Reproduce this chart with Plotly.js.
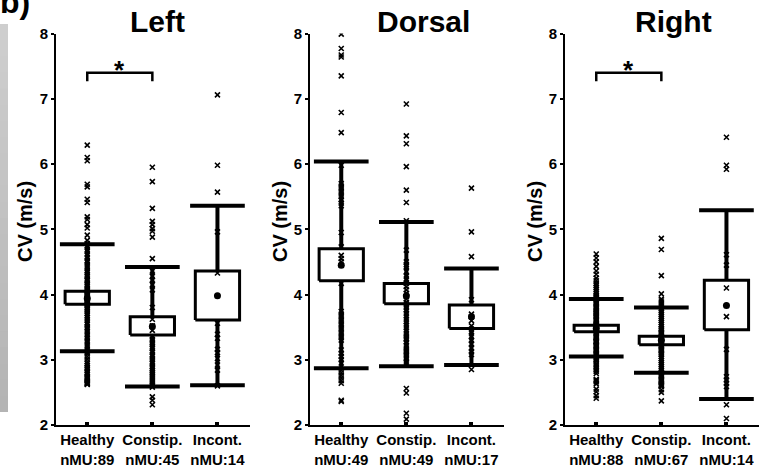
<!DOCTYPE html>
<html>
<head>
<meta charset="utf-8">
<script src="https://cdn.plot.ly/plotly-3.0.1.min.js"></script>
<style>html,body{margin:0;padding:0;background:#fff;}#chart{width:760px;height:466px;}</style>
</head>
<body>
<div id="chart"></div>
<script>
// ---------- data ----------
const categories = ['Healthy', 'Constip.', 'Incont.'];
const panelNames = ['Left', 'Dorsal', 'Right'];
const yTickVals = [2, 3, 4, 5, 6, 7, 8];

const nMULeft = [89, 45, 14];
const nMUDorsal = [49, 49, 17];
const nMURight = [88, 67, 14];

// box statistics (Q1, Q3, mean, whisker ends)
const q1Left = [3.85, 3.38, 3.61];
const q3Left = [4.05, 3.66, 4.36];
const meanLeft = [3.94, 3.51, 3.98];
const whiskLoLeft = [3.13, 2.59, 2.61];
const whiskHiLeft = [4.77, 4.42, 5.36];

const q1Dorsal = [4.21, 3.86, 3.48];
const q3Dorsal = [4.70, 4.17, 3.84];
const meanDorsal = [4.45, 3.98, 3.66];
const whiskLoDorsal = [2.87, 2.90, 2.92];
const whiskHiDorsal = [6.04, 5.11, 4.40];

const q1Right = [3.43, 3.23, 3.46];
const q3Right = [3.53, 3.36, 4.22];
const meanRight = [3.48, 3.30, 3.83];
const whiskLoRight = [3.05, 2.80, 2.40];
const whiskHiRight = [3.93, 3.80, 5.29];

// individual motor-unit CVs (m/s)
const ptsLeftHealthy = [6.29, 6.10, 6.05, 5.69, 5.65, 5.46, 5.41, 5.19, 5.15, 5.07, 5.02, 4.91, 4.83,
  4.78, 4.74, 4.69, 4.66, 4.61, 4.57, 4.52, 4.49, 4.45, 4.41, 4.37, 4.34, 4.30, 4.27, 4.23, 4.21, 4.18,
  4.15, 4.13, 4.10, 4.08, 4.06, 4.04, 4.02, 4.00, 3.99, 3.97, 3.96, 3.94, 3.92, 3.91, 3.89, 3.87, 3.85,
  3.83, 3.80, 3.78, 3.75, 3.71, 3.68, 3.65, 3.61, 3.57, 3.54, 3.50, 3.47, 3.43, 3.39, 3.35, 3.32, 3.28,
  3.24, 3.20, 3.16, 3.12, 3.09, 3.05, 3.01, 2.97, 2.94, 2.91, 2.88, 2.86, 2.83, 2.80, 2.78, 2.75, 2.73,
  2.71, 2.69, 2.67, 2.65, 2.64, 2.63, 2.62];
const ptsLeftConstip = [5.95, 5.73, 5.32, 5.12, 5.07, 5.01, 4.97, 4.88, 4.55, 4.36, 4.28, 4.22, 4.15,
  4.07, 3.80, 3.62, 3.52, 3.45, 3.35, 3.31, 3.27, 3.24, 3.20, 3.17, 3.12, 3.08, 3.05, 3.01, 2.97, 2.94,
  2.90, 2.87, 2.84, 2.81, 2.78, 2.75, 2.72, 2.69, 2.66, 2.63, 2.60, 2.58, 2.43, 2.38, 2.31];
const ptsLeftIncont = [7.06, 5.98, 5.57, 4.96, 4.33, 3.56, 3.39, 3.33, 3.16, 3.11, 3.02, 2.92, 2.84, 2.60];

const ptsDorsalHealthy = [7.99, 7.77, 7.67, 7.64, 7.35, 6.79, 6.48, 5.98, 5.70, 5.66, 5.62, 5.58, 5.54,
  5.50, 5.45, 5.40, 5.36, 4.95, 4.73, 4.60, 4.55, 4.50, 4.45, 4.17, 3.74, 3.70, 3.66, 3.62, 3.58, 3.54,
  3.50, 3.46, 3.42, 3.38, 3.34, 3.30, 3.15, 3.10, 3.05, 3.00, 2.95, 2.84, 2.80, 2.76, 2.72, 2.68, 2.64,
  2.38, 2.36];
const ptsDorsalConstip = [6.92, 6.43, 6.31, 5.96, 5.60, 5.41, 5.13, 4.68, 4.50, 4.46, 4.43, 4.35, 4.28,
  4.24, 4.17, 4.12, 4.07, 4.02, 3.97, 3.93, 3.88, 3.84, 3.80, 3.76, 3.71, 3.67, 3.62, 3.58, 3.53, 3.49,
  3.44, 3.40, 3.36, 3.33, 3.31, 3.27, 3.22, 3.18, 3.14, 3.12, 3.10, 3.06, 3.02, 2.98, 2.95, 2.56, 2.49,
  2.18, 2.09];
const ptsDorsalIncont = [5.63, 4.96, 4.58, 3.92, 3.70, 3.66, 3.60, 3.52, 3.47, 3.43, 3.35, 3.30, 3.24,
  3.18, 3.12, 3.08, 2.85];

const ptsRightHealthy = [4.62, 4.56, 4.50, 4.43, 4.36, 4.31, 4.25, 4.21, 4.17, 4.14, 4.11, 4.08, 4.05,
  4.02, 3.99, 3.97, 3.96, 3.94, 3.92, 3.90, 3.88, 3.86, 3.84, 3.82, 3.80, 3.78, 3.76, 3.74, 3.72, 3.71,
  3.70, 3.68, 3.66, 3.64, 3.62, 3.60, 3.58, 3.56, 3.54, 3.53, 3.52, 3.51, 3.50, 3.49, 3.48, 3.47, 3.46,
  3.45, 3.44, 3.42, 3.40, 3.38, 3.36, 3.34, 3.32, 3.30, 3.28, 3.28, 3.26, 3.24, 3.22, 3.20, 3.18, 3.16,
  3.14, 3.12, 3.10, 3.08, 3.06, 3.04, 3.02, 3.00, 2.98, 2.94, 2.92, 2.90, 2.87, 2.84, 2.82, 2.79, 2.70,
  2.68, 2.66, 2.63, 2.55, 2.51, 2.45, 2.41];
const ptsRightConstip = [4.86, 4.69, 4.29, 4.01, 3.93, 3.90, 3.87, 3.84, 3.81, 3.78, 3.75, 3.72, 3.69,
  3.66, 3.63, 3.60, 3.57, 3.54, 3.51, 3.48, 3.46, 3.44, 3.42, 3.40, 3.38, 3.36, 3.34, 3.32, 3.30, 3.29,
  3.28, 3.27, 3.26, 3.25, 3.24, 3.22, 3.20, 3.18, 3.16, 3.14, 3.12, 3.10, 3.08, 3.05, 3.02, 2.99, 2.96,
  2.93, 2.90, 2.87, 2.84, 2.81, 2.78, 2.76, 2.74, 2.72, 2.70, 2.68, 2.66, 2.64, 2.62, 2.61, 2.60, 2.59,
  2.54, 2.50, 2.37];
const ptsRightIncont = [6.41, 5.98, 5.92, 4.61, 4.45, 4.10, 3.66, 3.16, 2.74, 2.69, 2.64, 2.59, 2.31, 2.10];

// significant pairs (category numbers) per panel
const sigLeft = [[1, 2]];
const sigDorsal = [];
const sigRight = [[1, 2]];

// ---------- assembly ----------
const panels = [
  {name: panelNames[0], n: nMULeft, q1: q1Left, q3: q3Left, mean: meanLeft, lo: whiskLoLeft, hi: whiskHiLeft,
   pts: [ptsLeftHealthy, ptsLeftConstip, ptsLeftIncont], sig: sigLeft},
  {name: panelNames[1], n: nMUDorsal, q1: q1Dorsal, q3: q3Dorsal, mean: meanDorsal, lo: whiskLoDorsal, hi: whiskHiDorsal,
   pts: [ptsDorsalHealthy, ptsDorsalConstip, ptsDorsalIncont], sig: sigDorsal},
  {name: panelNames[2], n: nMURight, q1: q1Right, q3: q3Right, mean: meanRight, lo: whiskLoRight, hi: whiskHiRight,
   pts: [ptsRightHealthy, ptsRightConstip, ptsRightIncont], sig: sigRight}
];

const W = 760, H = 466;
const FONT = 'Liberation Sans, Arial, Helvetica, sans-serif';
const xDomPx = [[56, 250], [310, 504], [565, 759]];
const yDomPx = [33.5, 425];
const titleCx = [157, 423.5, 673.5];
const yTitleCx = [25, 280, 535];
const BOX_HW = 0.34, CAP_HW = 0.42;

const traces = [];
const shapes = [];
const annotations = [];
const layout = {
  width: W, height: H,
  margin: {l: 0, r: 0, t: 0, b: 0},
  paper_bgcolor: '#ffffff', plot_bgcolor: '#ffffff',
  showlegend: false,
  font: {family: FONT, color: '#000'}
};

panels.forEach((p, k) => {
  const sfx = k === 0 ? '' : String(k + 1);
  const xa = 'x' + sfx, ya = 'y' + sfx;
  const xpos = categories.map((c, i) => i + 1);

  // whiskers (vertical stem + caps)
  const wx = [], wy = [];
  xpos.forEach((c, i) => {
    wx.push(c, c, null, c - CAP_HW, c + CAP_HW, null, c - CAP_HW, c + CAP_HW, null);
    wy.push(p.lo[i], p.hi[i], null, p.hi[i], p.hi[i], null, p.lo[i], p.lo[i], null);
  });
  traces.push({type: 'scatter', mode: 'lines', x: wx, y: wy, xaxis: xa, yaxis: ya,
    line: {color: '#000', width: 4}, hoverinfo: 'skip'});

  // boxes
  xpos.forEach((c, i) => {
    traces.push({type: 'scatter', mode: 'lines', xaxis: xa, yaxis: ya,
      x: [c - BOX_HW, c + BOX_HW, c + BOX_HW, c - BOX_HW, c - BOX_HW],
      y: [p.q1[i], p.q1[i], p.q3[i], p.q3[i], p.q1[i]],
      fill: 'toself', fillcolor: '#ffffff', line: {color: '#000', width: 3}, hoverinfo: 'skip'});
  });

  // individual points
  xpos.forEach((c, i) => {
    traces.push({type: 'scatter', mode: 'markers', xaxis: xa, yaxis: ya,
      x: p.pts[i].map(() => c), y: p.pts[i],
      marker: {symbol: 'x-thin', size: 5, color: '#000', line: {color: '#000', width: 1.6}}});
  });

  // means
  traces.push({type: 'scatter', mode: 'markers', xaxis: xa, yaxis: ya, x: xpos, y: p.mean,
    marker: {symbol: 'circle', size: 7, color: '#000'}});

  // axes
  layout['xaxis' + sfx] = {
    domain: [xDomPx[k][0] / W, xDomPx[k][1] / W], anchor: ya, range: [0.52, 3.5],
    tickvals: xpos, ticktext: categories.map((c, i) => '<b>' + c + '</b><br><b>nMU:' + p.n[i] + '</b>'),
    showgrid: false, zeroline: false, showline: true, linecolor: '#000', linewidth: 2,
    ticks: 'inside', ticklen: 3, tickwidth: 4, tickcolor: '#000',
    tickfont: {family: FONT, size: 15, color: '#000'}, fixedrange: true
  };
  layout['yaxis' + sfx] = {
    domain: [1 - yDomPx[1] / H, 1 - yDomPx[0] / H], anchor: xa, range: [2, 8],
    tickvals: yTickVals, ticktext: yTickVals.map(v => '<b>' + v + '</b>'),
    showgrid: false, zeroline: false, showline: true, linecolor: '#000', linewidth: 2,
    ticks: 'outside', ticklen: 3, tickwidth: 2, tickcolor: '#000',
    tickfont: {family: FONT, size: 15, color: '#000'}, fixedrange: true
  };

  // panel title
  annotations.push({text: '<b>' + p.name + '</b>', xref: 'paper', yref: 'paper', x: titleCx[k] / W, y: 1 - 21 / H,
    xanchor: 'center', yanchor: 'middle', showarrow: false,
    font: {family: FONT, size: 30, color: '#000'}});
  // y-axis title
  annotations.push({text: '<b>CV (m/s)</b>', xref: 'paper', yref: 'paper', x: yTitleCx[k] / W, y: 1 - 222 / H,
    xanchor: 'center', yanchor: 'middle', textangle: -90, showarrow: false,
    font: {family: FONT, size: 20, color: '#000'}});

  // significance brackets
  p.sig.forEach(pair => {
    shapes.push({type: 'path', xref: xa, yref: ya,
      path: `M ${pair[0]},7.27 L ${pair[0]},7.4 L ${pair[1]},7.4 L ${pair[1]},7.27`,
      line: {color: '#000', width: 2.5}});
    annotations.push({text: '<b>*</b>', xref: xa, yref: ya, x: (pair[0] + pair[1]) / 2, y: 7.4,
      xanchor: 'center', yanchor: 'bottom', yshift: -14, showarrow: false,
      font: {family: FONT, size: 26, color: '#000'}});
  });
});

// grey strip at far left and the panel letter
const stripTop = 24, stripBottom = 412, stripSteps = 24;
for (let i = 0; i < stripSteps; i++) {
  const t = i / (stripSteps - 1);
  const g = Math.round(206 - 26 * t);
  const y0 = stripTop + i * (stripBottom - stripTop) / stripSteps;
  const y1 = stripTop + (i + 1) * (stripBottom - stripTop) / stripSteps + 1;
  shapes.push({type: 'rect', xref: 'paper', yref: 'paper', x0: 0, x1: 8 / W,
    y0: 1 - Math.min(y1, stripBottom) / H, y1: 1 - y0 / H,
    fillcolor: `rgb(${g},${g},${g})`, line: {width: 0}, layer: 'below'});
}
annotations.push({text: '<b>b)</b>', xref: 'paper', yref: 'paper', x: -2 / W, y: 1 - 22 / H,
  xanchor: 'left', yanchor: 'bottom', showarrow: false,
  font: {family: FONT, size: 32, color: '#000'}});

layout.shapes = shapes;
layout.annotations = annotations;

Plotly.newPlot('chart', traces, layout, {staticPlot: true, displayModeBar: false});
</script>
</body>
</html>
